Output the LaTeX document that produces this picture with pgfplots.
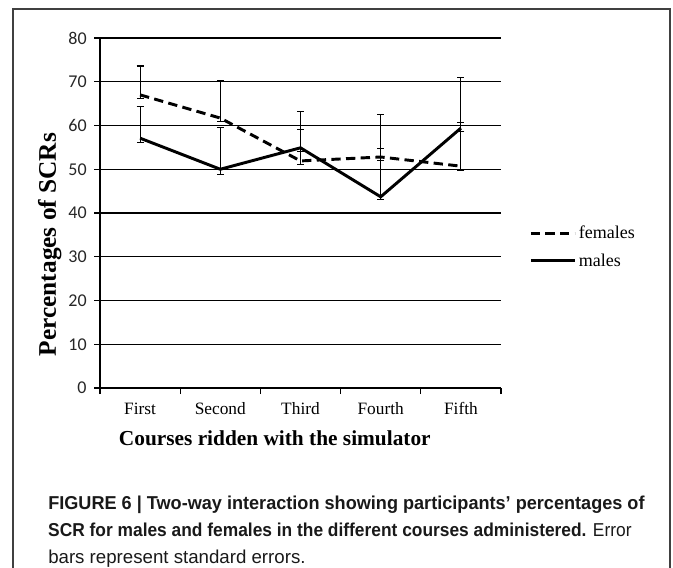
\documentclass[border=0pt]{standalone}
\usepackage{fontspec}
\setmainfont{Liberation Serif}
\newfontfamily\calibri{Carlito}
\newfontfamily\capfont{Liberation Sans}
\usepackage{pgfplots}
\pgfplotsset{compat=1.18}
\begin{document}
\begin{tikzpicture}
\useasboundingbox (0,0) rectangle (504.75pt,425.25pt);
\clip (0,0) rectangle (504.75pt,425.25pt);
\draw[black!75, line width=1.1pt] (9.75pt,-5pt) -- (9.75pt,418.5pt) -- (502.5pt,418.5pt) -- (502.5pt,-5pt);
\begin{axis}[
  at={(75pt,134.25pt)}, anchor=south west,
  scale only axis, width=300.75pt, height=262.5pt,
  xmin=-0.5, xmax=4.5, ymin=0, ymax=80,
  axis lines*=left,
  axis line style={black, line width=0.9pt},
  xtick={-0.5,0.5,1.5,2.5,3.5,4.5},
  xticklabels={First,Second,Third,Fourth,Fifth},
  x tick label as interval,
  ytick={0,10,...,80},
  tick align=outside,
  major tick length=4.5pt,
  tick style={black, line width=0.9pt},
  ymajorgrids,
  major grid style={black, line width=0.9pt},
  /pgf/number format/assume math mode=true,
  yticklabel style={font=\calibri\fontsize{13.5}{15}\selectfont, text=black!85, xshift=-2pt},
  xticklabel style={font=\fontsize{13}{15}\selectfont, text height=9pt, text depth=0pt, yshift=-3pt},
  xlabel={\textbf{Courses ridden with the simulator}},
  ylabel={\textbf{Percentages of SCRs}},
  xlabel style={font=\fontsize{16}{18}\selectfont, at={(axis description cs:0.436,-0.143)}, anchor=center},
  ylabel style={font=\fontsize{19}{21}\selectfont, at={(axis description cs:-0.125,0.41)}, anchor=center},
  legend style={draw=none, fill=none, at={(axis description cs:1.07,0.403)}, anchor=west,
    font=\fontsize{13.5}{15}\selectfont, row sep=6pt, inner sep=0pt},
  legend cell align=left,
  legend image code/.code={\draw[#1] (0pt,0pt) -- (33pt,0pt);},
  clip=false,
]
\addplot[black, line width=2.2pt, dash pattern=on 7pt off 4pt,
  error bars/.cd, y dir=both, y explicit,
  error bar style={black, line width=0.8pt, solid},
  error mark options={rotate=90, black, line width=0.8pt, mark size=2.6pt, solid}]
coordinates {
 (0,67.0) += (0,6.6) -= (0,0.8)
 (1,61.7) += (0,8.5) -= (0,0.7)
 (2,51.9) += (0,11.3) -= (0,0.9)
 (3,52.8) += (0,9.7) -= (0,0.9)
 (4,50.7) += (0,20.3) -= (0,0.9)
};
\addlegendentry{females}
\addplot[black, line width=2.2pt,
  error bars/.cd, y dir=both, y explicit,
  error bar style={black, line width=0.8pt},
  error mark options={rotate=90, black, line width=0.8pt, mark size=2.6pt}]
coordinates {
 (0,57.1) += (0,7.2) -= (0,1.0)
 (1,50.0) += (0,9.5) -= (0,1.1)
 (2,54.9) += (0,4.2) -= (0,0.8)
 (3,43.7) += (0,11.1) -= (0,0.7)
 (4,59.4) += (0,1.2) -= (0,0.8)
};
\addlegendentry{males}
\end{axis}
\begin{scope}[text=black!90]
\node[anchor=base west, inner sep=0pt, xscale=0.97] at (36pt,43pt) {\capfont\fontsize{14}{16}\selectfont\bfseries FIGURE 6 | Two-way interaction showing participants’ percentages of};
\node[anchor=base west, inner sep=0pt, xscale=0.93] at (36pt,23pt) {\capfont\fontsize{14}{16}\selectfont\textbf{SCR for males and females in the different courses administered.} Error};
\node[anchor=base west, inner sep=0pt] at (36pt,3pt) {\capfont\fontsize{14}{16}\selectfont bars represent standard errors.};
\end{scope}
\end{tikzpicture}
\end{document}
